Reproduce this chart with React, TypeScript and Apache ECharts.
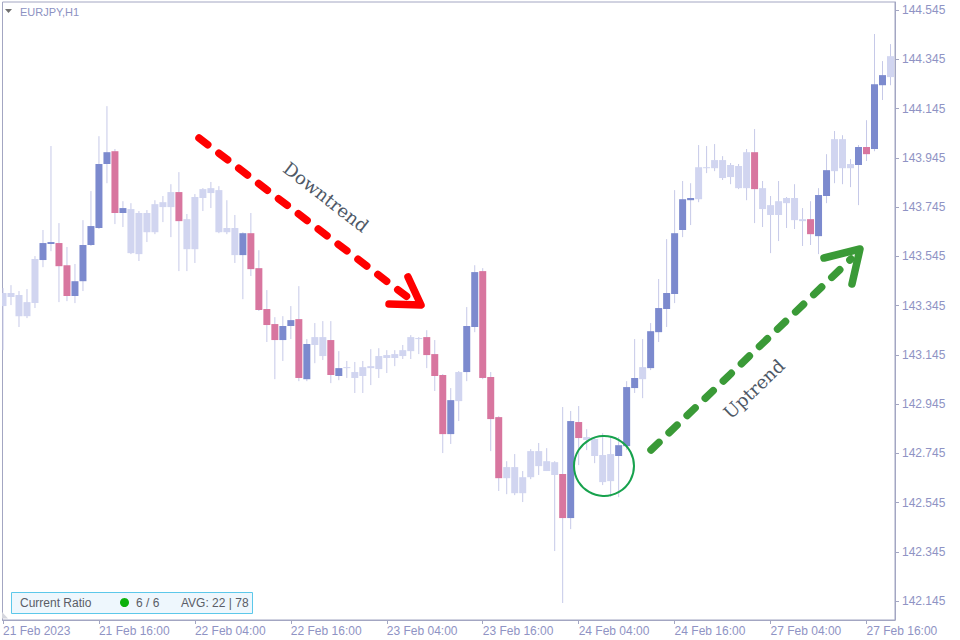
import React, { useEffect, useRef } from "react";
import * as echarts from "echarts";

// EURJPY H1 candles (index 0 = 21 Feb 2023 04:00)
const opens = [
  143.343, 143.380, 143.302, 143.302, 143.355, 143.530, 143.595, 143.599, 143.509, 143.384,
  143.444, 143.591, 143.660, 143.920, 143.972, 143.721, 143.558, 143.554, 143.643, 143.643,
  143.745, 143.745, 143.806, 143.574, 143.574, 143.782, 143.802, 143.643, 143.643, 143.550,
  143.550, 143.639, 143.497, 143.331, 143.270, 143.205, 143.262, 143.290, 143.046, 143.185,
  143.140, 143.205, 143.059, 143.091, 143.051, 143.059, 143.091, 143.087, 143.132, 143.132,
  143.140, 143.160, 143.209, 143.217, 143.148, 143.063, 142.823, 142.957, 143.075, 143.258,
  143.485, 143.055, 142.892, 142.644, 142.583, 142.583, 142.648, 142.693, 142.673, 142.657,
  142.661, 142.482, 142.872, 142.799, 142.734, 142.628, 142.632, 142.734, 142.774, 143.010,
  143.046, 143.091, 143.237, 143.331, 143.392, 143.652, 143.773, 143.777, 143.903, 143.903,
  143.863, 143.867, 143.822, 143.822, 143.968, 143.737, 143.713, 143.713, 143.761, 143.692,
  143.688, 143.696, 143.627, 143.790, 143.891, 143.903, 143.903, 143.916, 143.989, 143.981,
  144.240, 144.273,
];
const closes = [
  143.396, 143.396, 143.388, 143.359, 143.534, 143.599, 143.603, 143.505, 143.384, 143.444,
  143.591, 143.668, 143.920, 143.968, 143.721, 143.741, 143.737, 143.721, 143.721, 143.757,
  143.765, 143.806, 143.688, 143.696, 143.786, 143.818, 143.822, 143.814, 143.660, 143.660,
  143.639, 143.493, 143.327, 143.266, 143.205, 143.262, 143.286, 143.051, 143.189, 143.217,
  143.217, 143.063, 143.091, 143.095, 143.075, 143.095, 143.099, 143.140, 143.144, 143.148,
  143.164, 143.217, 143.213, 143.144, 143.059, 142.823, 142.961, 143.075, 143.262, 143.481,
  143.051, 142.884, 142.644, 142.689, 142.689, 142.648, 142.754, 142.754, 142.713, 142.709,
  142.482, 142.876, 142.807, 142.811, 142.803, 142.738, 142.742, 142.778, 143.014, 143.051,
  143.095, 143.241, 143.335, 143.396, 143.639, 143.777, 143.782, 143.907, 143.907, 143.936,
  143.936, 143.916, 143.912, 143.968, 143.818, 143.822, 143.753, 143.769, 143.782, 143.782,
  143.696, 143.635, 143.794, 143.895, 144.021, 144.021, 143.920, 143.989, 143.960, 144.244,
  144.281, 144.358,
];
const highs = [
  143.416, 143.428, 143.404, 143.412, 143.546, 143.652, 143.993, 143.680, 143.583, 143.514,
  143.692, 143.810, 144.033, 144.155, 143.981, 143.769, 143.761, 143.729, 143.733, 143.773,
  143.790, 143.838, 143.887, 143.717, 143.798, 143.822, 143.847, 143.830, 143.773, 143.713,
  143.643, 143.721, 143.570, 143.408, 143.298, 143.302, 143.343, 143.424, 143.209, 143.274,
  143.282, 143.282, 143.160, 143.120, 143.116, 143.120, 143.168, 143.172, 143.164, 143.164,
  143.185, 143.225, 143.217, 143.245, 143.205, 143.067, 143.010, 143.079, 143.339, 143.509,
  143.497, 143.075, 142.896, 142.713, 142.742, 142.673, 142.762, 142.787, 142.766, 142.713,
  142.933, 142.917, 142.937, 142.843, 142.811, 142.827, 142.811, 142.811, 143.038, 143.209,
  143.209, 143.274, 143.453, 143.615, 143.814, 143.851, 143.842, 143.997, 143.993, 144.001,
  143.952, 143.924, 143.920, 143.981, 144.062, 143.851, 143.790, 143.851, 143.786, 143.838,
  143.741, 143.769, 143.822, 143.960, 144.054, 144.037, 143.940, 143.997, 144.098, 144.448,
  144.338, 144.407,
];
const lows = [
  143.164, 143.347, 143.258, 143.294, 143.335, 143.501, 143.566, 143.359, 143.363, 143.355,
  143.404, 143.587, 143.656, 143.842, 143.676, 143.664, 143.554, 143.526, 143.603, 143.635,
  143.684, 143.623, 143.485, 143.485, 143.518, 143.729, 143.741, 143.639, 143.635, 143.518,
  143.371, 143.465, 143.323, 143.197, 143.046, 143.120, 143.209, 143.038, 143.038, 143.111,
  143.124, 143.030, 143.042, 143.051, 142.990, 142.990, 143.022, 143.051, 143.071, 143.099,
  143.128, 143.128, 143.148, 143.091, 142.998, 142.746, 142.783, 142.876, 143.038, 143.237,
  143.046, 142.754, 142.592, 142.579, 142.575, 142.547, 142.640, 142.657, 142.673, 142.348,
  142.137, 142.437, 142.697, 142.758, 142.705, 142.616, 142.567, 142.567, 142.758, 142.990,
  142.969, 143.083, 143.197, 143.258, 143.355, 143.623, 143.672, 143.765, 143.883, 143.891,
  143.855, 143.838, 143.818, 143.773, 143.680, 143.664, 143.558, 143.607, 143.660, 143.656,
  143.587, 143.591, 143.554, 143.761, 143.842, 143.838, 143.826, 143.753, 143.932, 143.972,
  144.180, 144.240,
];
// candle colouring: u = strong up, d = strong down, n = neutral
const kinds = (
  "nnnnn" + "uu" + "dd" + "uuuuu" + "d" + "u" + "nnnnnn" + "d" + "nnnnnnn" + "u" +
  "dddd" + "uu" + "d" + "u" + "nn" + "d" + "u" + "nnnnnnnnnn" + "ddd" + "u" + "n" +
  "uu" + "ddd" + "nnnnnnn" + "d" + "u" + "d" + "nnnn" + "uuu" + "n" + "uuuuuu" +
  "nnnnnnn" + "d" + "nnnnnn" + "d" + "uu" + "nnn" + "u" + "d" + "uu" + "n"
).split("");

const xTickIndex = [0, 12, 24, 36, 48, 60, 72, 84, 96, 108];
const xTickLabels = [
  "21 Feb 2023", "21 Feb 16:00", "22 Feb 04:00", "22 Feb 16:00", "23 Feb 04:00",
  "23 Feb 16:00", "24 Feb 04:00", "24 Feb 16:00", "27 Feb 04:00", "27 Feb 16:00",
];
const yTicks = [
  142.145, 142.345, 142.545, 142.745, 142.945, 143.145, 143.345,
  143.545, 143.745, 143.945, 144.145, 144.345, 144.545,
];

const BODY: Record<string, string> = { u: "#7c8ace", d: "#d8769f", n: "#d1d5f0" };
const WICK = "#c6c9e8";
const AXIS = "#a3a6c2";
const LABEL = "#8f93c4";
const FONT = "'Liberation Sans', Arial, sans-serif";

export default function App() {
  const ref = useRef<HTMLDivElement>(null);
  useEffect(() => {
    if (!ref.current) return;
    const chart = echarts.init(ref.current, null, { renderer: "svg" });
    const data = opens.map((o, i) => [i, o, closes[i], lows[i], highs[i]]);
    chart.setOption({
      animation: false,
      backgroundColor: "#ffffff",
      grid: { left: 2, right: 65, top: 2, bottom: 20, show: true, borderColor: AXIS, borderWidth: 1 },
      xAxis: {
        type: "value",
        min: -0.0625,
        max: 111.5625,
        axisLine: { show: true, onZero: false, lineStyle: { color: AXIS } },
        axisTick: { show: true, length: 4, customValues: xTickIndex, lineStyle: { color: AXIS } },
        axisLabel: {
          customValues: xTickIndex,
          formatter: (v: number) => xTickLabels[xTickIndex.indexOf(v)] ?? "",
          align: "left",
          margin: 5,
          color: LABEL,
          fontSize: 12,
          fontFamily: FONT,
        },
        splitLine: { show: false },
      },
      yAxis: {
        type: "value",
        position: "right",
        min: 142.068,
        max: 144.578,
        axisLine: { show: true, onZero: false, lineStyle: { color: AXIS } },
        axisTick: { show: true, length: 4, customValues: yTicks, lineStyle: { color: AXIS } },
        axisLabel: {
          customValues: yTicks,
          formatter: (v: number) => v.toFixed(3),
          margin: 7,
          color: LABEL,
          fontSize: 12,
          fontFamily: FONT,
        },
        splitLine: { show: false },
      },
      series: [
        {
          type: "custom",
          clip: true,
          data,
          encode: { x: 0, y: [1, 2, 3, 4] },
          renderItem: (params: any, api: any) => {
            const i = api.value(0);
            const ph = api.coord([i, api.value(4)]);
            const pl = api.coord([i, api.value(3)]);
            const po = api.coord([i, api.value(1)]);
            const pc = api.coord([i, api.value(2)]);
            const cx = ph[0];
            const top = Math.min(po[1], pc[1]);
            const bot = Math.max(po[1], pc[1]);
            const k = kinds[params.dataIndex];
            return {
              type: "group",
              children: [
                {
                  type: "line",
                  shape: { x1: cx, y1: ph[1], x2: cx, y2: pl[1] },
                  style: { stroke: WICK, lineWidth: 1 },
                },
                {
                  type: "rect",
                  shape: { x: cx - 3.5, y: top, width: 7, height: Math.max(1, bot - top) },
                  style: { fill: BODY[k] },
                },
              ],
            };
          },
        },
      ],
      graphic: [
        { type: "polygon", z: 100, shape: { points: [[5, 9], [12, 9], [8.5, 13]] }, style: { fill: "#707070" } },
        {
          type: "text", z: 100, x: 20, y: 12,
          style: { text: "EURJPY,H1", fill: "#8d92c2", fontSize: 11, fontFamily: FONT, verticalAlign: "middle" },
        },
        { type: "polygon", z: 100, shape: { points: [[2, 612], [8, 618.5], [2, 618.5]] }, style: { fill: "#d5d6de" } },
        // Downtrend arrow
        {
          type: "line", z: 100,
          shape: { x1: 199, y1: 138, x2: 410, y2: 299 },
          style: { stroke: "#ff0000", lineWidth: 7.5, lineDash: [11, 14], lineCap: "round" },
        },
        {
          type: "polyline", z: 100,
          shape: { points: [[408, 277], [421, 305], [389, 304]] },
          style: { stroke: "#ff0000", lineWidth: 7.5, lineCap: "round", lineJoin: "round", fill: null },
        },
        {
          type: "text", z: 100, x: 326, y: 197, rotation: -0.66,
          style: { text: "Downtrend", fill: "#4e5866", fontSize: 18, fontFamily: "'DejaVu Serif', serif", align: "center", verticalAlign: "middle" },
        },
        // Uptrend arrow
        {
          type: "line", z: 100,
          shape: { x1: 651, y1: 450, x2: 851, y2: 259 },
          style: { stroke: "#3a9a37", lineWidth: 7.5, lineDash: [11, 14], lineCap: "round" },
        },
        {
          type: "polyline", z: 100,
          shape: { points: [[824, 258], [860, 249], [852, 284]] },
          style: { stroke: "#3a9a37", lineWidth: 7.5, lineCap: "round", lineJoin: "round", fill: null },
        },
        {
          type: "text", z: 100, x: 754, y: 389, rotation: 0.76,
          style: { text: "Uptrend", fill: "#4e5866", fontSize: 18, fontFamily: "'DejaVu Serif', serif", align: "center", verticalAlign: "middle" },
        },
        {
          type: "circle", z: 100,
          shape: { cx: 604, cy: 466, r: 30 },
          style: { fill: "transparent", stroke: "#17a24d", lineWidth: 2 },
        },
        // Info box
        {
          type: "rect", z: 100,
          shape: { x: 11.5, y: 592.5, width: 241, height: 21 },
          style: { fill: "#eef7fd", stroke: "#5cc8ea", lineWidth: 1 },
        },
        {
          type: "text", z: 101, x: 20, y: 603,
          style: { text: "Current Ratio", fill: "#5a5d66", fontSize: 12, fontFamily: FONT, verticalAlign: "middle" },
        },
        { type: "circle", z: 101, shape: { cx: 124.5, cy: 602.5, r: 4.5 }, style: { fill: "#0db10d" } },
        {
          type: "text", z: 101, x: 136, y: 603,
          style: { text: "6 / 6", fill: "#5a5d66", fontSize: 12, fontFamily: FONT, verticalAlign: "middle" },
        },
        {
          type: "text", z: 101, x: 181, y: 603,
          style: { text: "AVG: 22 | 78", fill: "#5a5d66", fontSize: 12, fontFamily: FONT, verticalAlign: "middle" },
        },
      ],
    });
    return () => chart.dispose();
  }, []);
  return (
    <div
      ref={ref}
      style={{ position: "absolute", left: 0, top: 0, width: 960, height: 640 }}
    />
  );
}
